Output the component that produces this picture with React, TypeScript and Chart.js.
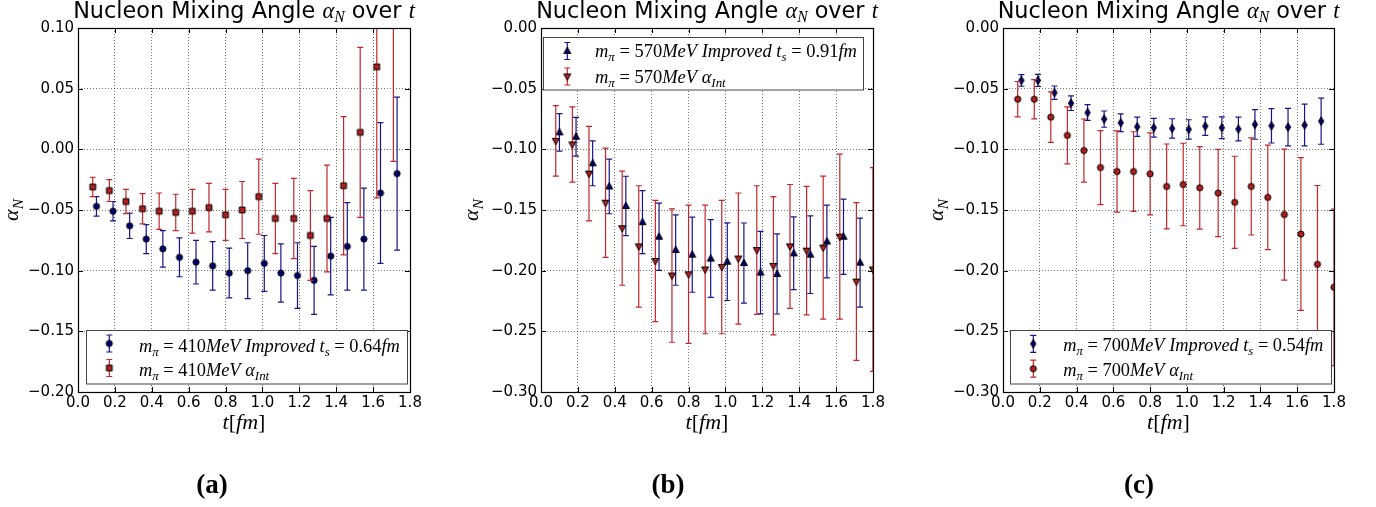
import React, { useEffect, useRef } from "react";
import { Chart, registerables } from "chart.js";
Chart.register(...registerables);

// ---------------- data ----------------
// Panel (a): m_pi = 410 MeV
const tA_int = [0.08, 0.17, 0.26, 0.35, 0.44, 0.53, 0.62, 0.71, 0.80, 0.89, 0.98, 1.07, 1.17, 1.26, 1.35, 1.44, 1.53, 1.62, 1.71];
const aA_int = [-0.031, -0.034, -0.043, -0.049, -0.051, -0.052, -0.051, -0.048, -0.054, -0.050, -0.039, -0.057, -0.057, -0.071, -0.057, -0.030, 0.014, 0.068, 0.125];
const eA_int = [0.008, 0.009, 0.010, 0.0125, 0.015, 0.015, 0.018, 0.020, 0.021, 0.0235, 0.031, 0.029, 0.033, 0.037, 0.044, 0.057, 0.070, 0.108, 0.135];
const tA_imp = [0.10, 0.19, 0.28, 0.37, 0.46, 0.55, 0.64, 0.73, 0.82, 0.92, 1.01, 1.10, 1.19, 1.28, 1.37, 1.46, 1.55, 1.64, 1.73];
const aA_imp = [-0.047, -0.051, -0.063, -0.074, -0.082, -0.089, -0.093, -0.096, -0.102, -0.100, -0.094, -0.102, -0.104, -0.108, -0.088, -0.080, -0.074, -0.036, -0.020];
const eA_imp = [0.008, 0.008, 0.0105, 0.012, 0.015, 0.016, 0.018, 0.020, 0.0205, 0.023, 0.023, 0.024, 0.027, 0.028, 0.032, 0.036, 0.042, 0.058, 0.063];

// Panel (b): m_pi = 570 MeV
const tB_int = [0.08, 0.17, 0.26, 0.35, 0.44, 0.53, 0.62, 0.71, 0.80, 0.89, 0.98, 1.07, 1.17, 1.26, 1.35, 1.44, 1.53, 1.62, 1.71, 1.80];
const aB_int = [-0.093, -0.096, -0.120, -0.144, -0.165, -0.180, -0.192, -0.204, -0.203, -0.199, -0.197, -0.190, -0.183, -0.196, -0.180, -0.1835, -0.181, -0.172, -0.209, -0.199];
const eB_int = [0.029, 0.031, 0.039, 0.045, 0.047, 0.050, 0.050, 0.055, 0.057, 0.053, 0.055, 0.054, 0.053, 0.057, 0.051, 0.053, 0.059, 0.068, 0.065, 0.084];
const tB_imp = [0.10, 0.19, 0.28, 0.37, 0.46, 0.55, 0.64, 0.73, 0.82, 0.92, 1.01, 1.10, 1.19, 1.28, 1.37, 1.46, 1.55, 1.64, 1.73];
const aB_imp = [-0.086, -0.0896, -0.1115, -0.1306, -0.1467, -0.160, -0.172, -0.183, -0.1868, -0.190, -0.1926, -0.1937, -0.2016, -0.2027, -0.1857, -0.1868, -0.176, -0.172, -0.1934];
const eB_imp = [0.0155, 0.016, 0.0185, 0.0225, 0.0245, 0.026, 0.0277, 0.029, 0.031, 0.032, 0.032, 0.033, 0.034, 0.033, 0.030, 0.032, 0.030, 0.031, 0.0367];

// Panel (c): m_pi = 700 MeV
const tC_int = [0.08, 0.17, 0.26, 0.35, 0.44, 0.53, 0.62, 0.71, 0.80, 0.89, 0.98, 1.07, 1.17, 1.26, 1.35, 1.44, 1.53, 1.62, 1.71, 1.80];
const aC_int = [-0.0587, -0.0587, -0.0735, -0.0885, -0.101, -0.115, -0.1183, -0.1183, -0.1202, -0.1306, -0.129, -0.1317, -0.136, -0.1437, -0.1306, -0.1396, -0.1538, -0.1698, -0.1948, -0.2137];
const eC_int = [0.0146, 0.0162, 0.0208, 0.0235, 0.026, 0.0305, 0.0335, 0.0328, 0.0338, 0.035, 0.034, 0.034, 0.036, 0.038, 0.040, 0.043, 0.054, 0.063, 0.065, 0.0645];
const tC_imp = [0.10, 0.19, 0.28, 0.37, 0.46, 0.55, 0.64, 0.73, 0.82, 0.92, 1.01, 1.10, 1.19, 1.28, 1.37, 1.46, 1.55, 1.64, 1.73];
const aC_imp = [-0.0432, -0.0432, -0.0533, -0.062, -0.0697, -0.0751, -0.0781, -0.0814, -0.0822, -0.0828, -0.0836, -0.0809, -0.0822, -0.0833, -0.0795, -0.0806, -0.0817, -0.080, -0.0768];
const eC_imp = [0.0048, 0.005, 0.0055, 0.006, 0.0065, 0.0067, 0.0073, 0.008, 0.0077, 0.008, 0.008, 0.0076, 0.009, 0.0098, 0.0122, 0.0142, 0.0155, 0.0172, 0.019];

// tick values
const xTickValues = [0.0, 0.2, 0.4, 0.6, 0.8, 1.0, 1.2, 1.4, 1.6, 1.8];
const yTicksA = [0.10, 0.05, 0.00, -0.05, -0.10, -0.15, -0.20];
const yTicksBC = [0.00, -0.05, -0.10, -0.15, -0.20, -0.25, -0.30];

// ---------------- styling ----------------
const RED_LINE = "#c1272d";
const RED_FACE = "#b01e1e";
const BLUE_LINE = "#16168c";
const BLUE_FACE = "#000070";
const SERIF = '"Liberation Serif", serif';
const SANS = '"DejaVu Sans", sans-serif';

type Seg = { t: string; it?: boolean; bold?: boolean; sub?: boolean; sans?: boolean };

function segFont(s: Seg, size: number) {
  const px = s.sub ? size * 0.7 : size;
  return `${s.it ? "italic " : ""}${s.bold ? "bold " : ""}${px}px ${s.sans ? SANS : SERIF}`;
}
function richWidth(ctx: CanvasRenderingContext2D, segs: Seg[], size: number) {
  let w = 0;
  for (const s of segs) {
    ctx.font = segFont(s, size);
    w += ctx.measureText(s.t).width;
  }
  return w;
}
function drawRich(ctx: CanvasRenderingContext2D, segs: Seg[], x: number, y: number, size: number, align: "left" | "center") {
  const w = richWidth(ctx, segs, size);
  let cx = align === "center" ? x - w / 2 : x;
  ctx.textAlign = "left";
  ctx.textBaseline = "alphabetic";
  ctx.fillStyle = "#000";
  for (const s of segs) {
    ctx.font = segFont(s, size);
    ctx.fillText(s.t, cx, y + (s.sub ? size * 0.22 : 0));
    cx += ctx.measureText(s.t).width;
  }
}
function fitSize(ctx: CanvasRenderingContext2D, segs: Seg[], target: number) {
  return (20 * target) / richWidth(ctx, segs, 20);
}

function makeMarker(kind: string, face: string) {
  const c = document.createElement("canvas");
  c.width = 14;
  c.height = 14;
  const g = c.getContext("2d")!;
  const cx = 7, cy = 7;
  g.fillStyle = face;
  g.strokeStyle = "#000";
  g.lineWidth = 1;
  g.beginPath();
  if (kind === "circle") g.arc(cx, cy, 3.1, 0, Math.PI * 2);
  else if (kind === "square") g.rect(cx - 2.9, cy - 2.9, 5.8, 5.8);
  else if (kind === "tup") { g.moveTo(cx, cy - 3.9); g.lineTo(cx + 3.5, cy + 2.5); g.lineTo(cx - 3.5, cy + 2.5); }
  else if (kind === "tdown") { g.moveTo(cx, cy + 3.9); g.lineTo(cx + 3.5, cy - 2.5); g.lineTo(cx - 3.5, cy - 2.5); }
  else if (kind === "diamond") { g.moveTo(cx, cy - 4.3); g.lineTo(cx + 2.6, cy); g.lineTo(cx, cy + 4.3); g.lineTo(cx - 2.6, cy); }
  g.closePath();
  g.fill();
  g.stroke();
  return c;
}

const fmtY = (v: number) => {
  const s = Math.abs(v) < 1e-9 ? "0.00" : v.toFixed(2);
  return s.replace("-", "\u2212");
};

type PanelCfg = {
  key: string;
  left: number;
  width: number;
  yW: number;
  padR: number;
  yTicks: number[];
  tInt: number[]; aInt: number[]; eInt: number[];
  tImp: number[]; aImp: number[]; eImp: number[];
  intKind: string; impKind: string;
  mpi: string; ts: string;
  legBox: [number, number, number, number];
  legMx: number; legTx: number; legRows: [number, number]; legBase: [number, number]; legW: number;
  ylabX: number;
  cap: string; capX: number;
};

const PANELS: PanelCfg[] = [
  {
    key: "a", left: 0, width: 460, yW: 78, padR: 50, yTicks: yTicksA,
    tInt: tA_int, aInt: aA_int, eInt: eA_int, tImp: tA_imp, aImp: aA_imp, eImp: eA_imp,
    intKind: "square", impKind: "circle", mpi: "410", ts: "0.64",
    legBox: [86.5, 330.5, 407.5, 384], legMx: 109.3, legTx: 139, legRows: [343.5, 368], legBase: [351.5, 375.5], legW: 261,
    ylabX: 18, cap: "(a)", capX: 212,
  },
  {
    key: "b", left: 460, width: 458, yW: 81, padR: 45, yTicks: yTicksBC,
    tInt: tB_int, aInt: aB_int, eInt: eB_int, tImp: tB_imp, aImp: aB_imp, eImp: eB_imp,
    intKind: "tdown", impKind: "tup", mpi: "570", ts: "0.91",
    legBox: [83.5, 37.5, 403.5, 90], legMx: 107.3, legTx: 135, legRows: [51, 76.5], legBase: [56.7, 82.7], legW: 262,
    ylabX: 18, cap: "(b)", capX: 208,
  },
  {
    key: "c", left: 918, width: 458, yW: 85, padR: 42, yTicks: yTicksBC,
    tInt: tC_int, aInt: aC_int, eInt: eC_int, tImp: tC_imp, aImp: aC_imp, eImp: eC_imp,
    intKind: "circle", impKind: "diamond", mpi: "700", ts: "0.54",
    legBox: [92.5, 330.5, 413.5, 384], legMx: 115.3, legTx: 145.3, legRows: [343.8, 368.7], legBase: [350.7, 376], legW: 260,
    ylabX: 25, cap: "(c)", capX: 221,
  },
];

function drawErr(ctx: CanvasRenderingContext2D, x: number, y1: number, y2: number, color: string) {
  ctx.strokeStyle = color;
  ctx.lineWidth = 1.2;
  ctx.beginPath();
  ctx.moveTo(x, y1);
  ctx.lineTo(x, y2);
  ctx.moveTo(x - 3, y1);
  ctx.lineTo(x + 3, y1);
  ctx.moveTo(x - 3, y2);
  ctx.lineTo(x + 3, y2);
  ctx.stroke();
}

function Panel({ p }: { p: PanelCfg }) {
  const ref = useRef<HTMLCanvasElement>(null);
  useEffect(() => {
    const canvas = ref.current!;
    const intImg = makeMarker(p.intKind, RED_FACE);
    const impImg = makeMarker(p.impKind, BLUE_FACE);
    const yMin = Math.min(...p.yTicks);
    const yMax = Math.max(...p.yTicks);

    const plugin = {
      id: "panelDecor" + p.key,
      beforeDatasetDraw(chart: any, args: any) {
        const ds = chart.data.datasets[args.index];
        const ctx = chart.ctx as CanvasRenderingContext2D;
        const xs = chart.scales.x, ys = chart.scales.y;
        const a = chart.chartArea;
        ctx.save();
        ctx.beginPath();
        ctx.rect(a.left, a.top, a.right - a.left, a.bottom - a.top);
        ctx.clip();
        ds.data.forEach((pt: any, i: number) => {
          const e = ds.errs[i];
          const x = xs.getPixelForValue(pt.x);
          drawErr(ctx, x, ys.getPixelForValue(pt.y + e), ys.getPixelForValue(pt.y - e), ds.errColor);
        });
        ctx.restore();
      },
      afterDatasetsDraw(chart: any) {
        const ctx = chart.ctx as CanvasRenderingContext2D;
        const a = chart.chartArea;
        const xs = chart.scales.x, ys = chart.scales.y;
        ctx.save();
        ctx.strokeStyle = "#000";
        ctx.lineWidth = 1;
        ctx.beginPath();
        for (const v of xTickValues) {
          const x = Math.round(xs.getPixelForValue(v)) + 0.5;
          ctx.moveTo(x, a.bottom);
          ctx.lineTo(x, a.bottom - 5);
          ctx.moveTo(x, a.top);
          ctx.lineTo(x, a.top + 5);
        }
        for (const v of p.yTicks) {
          const y = Math.round(ys.getPixelForValue(v)) + 0.5;
          ctx.moveTo(a.left, y);
          ctx.lineTo(a.left + 5, y);
          ctx.moveTo(a.right, y);
          ctx.lineTo(a.right - 5, y);
        }
        ctx.stroke();
        ctx.lineWidth = 1.2;
        ctx.strokeRect(Math.round(a.left) + 0.5, Math.round(a.top) + 0.5, Math.round(a.right - a.left), Math.round(a.bottom - a.top));
        ctx.restore();
      },
      afterDraw(chart: any) {
        const ctx = chart.ctx as CanvasRenderingContext2D;
        const a = chart.chartArea;
        const cx = (a.left + a.right) / 2;
        ctx.save();
        // legend
        const [bx1, by1, bx2, by2] = p.legBox;
        ctx.fillStyle = "#fff";
        ctx.fillRect(bx1, by1, bx2 - bx1, by2 - by1);
        ctx.strokeStyle = "#444";
        ctx.lineWidth = 1;
        ctx.strokeRect(bx1, by1, bx2 - bx1, by2 - by1);
        drawErr(ctx, p.legMx, p.legRows[0] - 8.5, p.legRows[0] + 8.5, BLUE_LINE);
        ctx.drawImage(impImg, p.legMx - 7, p.legRows[0] - 7);
        drawErr(ctx, p.legMx, p.legRows[1] - 8.5, p.legRows[1] + 8.5, RED_LINE);
        ctx.drawImage(intImg, p.legMx - 7, p.legRows[1] - 7);
        const line1: Seg[] = [
          { t: "m", it: true }, { t: "\u03c0", it: true, sub: true }, { t: " = " }, { t: p.mpi },
          { t: "MeV", it: true }, { t: " " }, { t: "Improved", it: true }, { t: " " },
          { t: "t", it: true }, { t: "s", it: true, sub: true }, { t: " = " }, { t: p.ts }, { t: "fm", it: true },
        ];
        const line2: Seg[] = [
          { t: "m", it: true }, { t: "\u03c0", it: true, sub: true }, { t: " = " }, { t: p.mpi },
          { t: "MeV", it: true }, { t: " " }, { t: "\u03b1", it: true }, { t: "Int", it: true, sub: true },
        ];
        const ls = fitSize(ctx, line1, p.legW);
        drawRich(ctx, line1, p.legTx, p.legBase[0], ls, "left");
        drawRich(ctx, line2, p.legTx, p.legBase[1], ls, "left");
        // title
        const title: Seg[] = [
          { t: "Nucleon Mixing Angle ", sans: true }, { t: "\u03b1", it: true }, { t: "N", it: true, sub: true },
          { t: " over ", sans: true }, { t: "t", it: true },
        ];
        drawRich(ctx, title, cx, 17.5, fitSize(ctx, title, 342), "center");
        // x label
        const xl: Seg[] = [{ t: "t", it: true }, { t: "[" }, { t: "fm", it: true }, { t: "]" }];
        drawRich(ctx, xl, cx, 429, 22, "center");
        // y label
        ctx.save();
        ctx.translate(p.ylabX, (a.top + a.bottom) / 2);
        ctx.rotate(-Math.PI / 2);
        drawRich(ctx, [{ t: "\u03b1", it: true }, { t: "N", it: true, sub: true }], 0, 0, 22, "center");
        ctx.restore();
        // sub caption
        drawRich(ctx, [{ t: p.cap, bold: true }], p.capX, 493, 27, "center");
        ctx.restore();
      },
    };

    const chart = new Chart(canvas, {
      type: "scatter",
      data: {
        datasets: [
          {
            label: "int",
            data: p.tInt.map((x, i) => ({ x, y: p.aInt[i] })),
            pointStyle: intImg,
            pointRadius: 5,
            showLine: false,
            clip: 0,
            errs: p.eInt,
            errColor: RED_LINE,
          } as any,
          {
            label: "imp",
            data: p.tImp.map((x, i) => ({ x, y: p.aImp[i] })),
            pointStyle: impImg,
            pointRadius: 5,
            showLine: false,
            clip: 0,
            errs: p.eImp,
            errColor: BLUE_LINE,
          } as any,
        ],
      },
      options: {
        animation: false,
        responsive: false,
        devicePixelRatio: 1,
        events: [],
        layout: { padding: { left: 0, right: p.padR, top: 28, bottom: 85 } },
        plugins: { legend: { display: false }, tooltip: { enabled: false }, title: { display: false } },
        scales: {
          x: {
            type: "linear",
            min: 0,
            max: 1.8,
            afterBuildTicks: (s: any) => { s.ticks = xTickValues.map((v) => ({ value: v })); },
            afterFit: (s: any) => { s.height = 30; },
            ticks: {
              callback: (v: any) => Number(v).toFixed(1),
              font: { family: SANS, size: 15 },
              color: "#000",
              padding: 2,
              maxRotation: 0,
              autoSkip: false,
            },
            grid: { color: "rgba(0,0,0,0.55)", lineWidth: 1, drawTicks: false },
            border: { display: false, dash: [1, 2] },
          },
          y: {
            type: "linear",
            min: yMin,
            max: yMax,
            afterBuildTicks: (s: any) => { s.ticks = p.yTicks.map((v) => ({ value: v })); },
            afterFit: (s: any) => { s.width = p.yW; },
            ticks: {
              callback: (v: any) => fmtY(Number(v)),
              font: { family: SANS, size: 15 },
              color: "#000",
              padding: 4,
              autoSkip: false,
            },
            grid: { color: "rgba(0,0,0,0.55)", lineWidth: 1, drawTicks: false },
            border: { display: false, dash: [1, 2] },
          },
        },
      } as any,
      plugins: [plugin],
    });
    return () => chart.destroy();
  }, []);
  return (
    <canvas
      ref={ref}
      width={p.width}
      height={507}
      style={{ position: "absolute", left: p.left, top: 0, width: p.width, height: 507 }}
    />
  );
}

export default function App() {
  return (
    <div style={{ position: "absolute", left: 0, top: 0, width: 1376, height: 507, background: "#fff", overflow: "hidden" }}>
      {PANELS.map((p) => (
        <Panel key={p.key} p={p} />
      ))}
    </div>
  );
}
